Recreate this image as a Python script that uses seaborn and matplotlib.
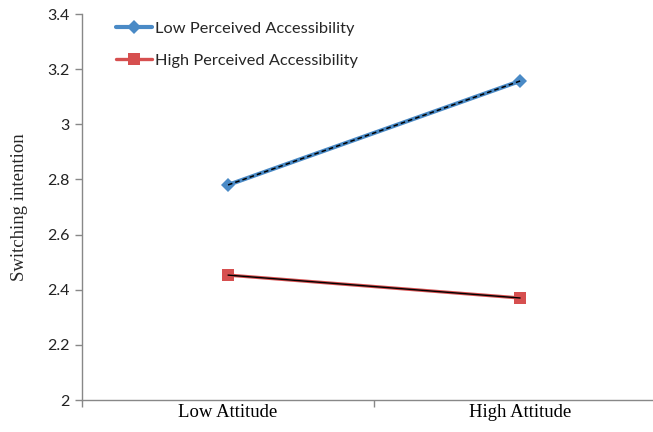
import matplotlib
matplotlib.use("Agg")
import matplotlib.pyplot as plt
import seaborn as sns
import pandas as pd
from matplotlib.ticker import FixedLocator

categories = ["Low Attitude", "High Attitude"]
low_access = [2.78, 3.157]
high_access = [2.453, 2.37]
series_names = ["Low Perceived Accessibility", "High Perceived Accessibility"]
yticks = [2, 2.2, 2.4, 2.6, 2.8, 3, 3.2, 3.4]
ytick_labels = ["2", "2.2", "2.4", "2.6", "2.8", "3", "3.2", "3.4"]

sns.set_style("white")
plt.rcParams['font.family'] = ['Lato', 'DejaVu Sans']

df_low = pd.DataFrame({"x": categories, "y": low_access})
df_high = pd.DataFrame({"x": categories, "y": high_access})

fig = plt.figure(figsize=(6.53, 4.32), dpi=100)
ax = fig.add_axes([82/653, 1-400/432, 1-82/653, (400-14)/432])

blue = "#4A8AC6"
red = "#D64F4F"
sns.lineplot(data=df_low, x="x", y="y", ax=ax, color=blue, lw=3.0,
             marker="D", markersize=7, markeredgewidth=0, label=series_names[0])
sns.lineplot(data=df_low, x="x", y="y", ax=ax, color="black", lw=1.1,
             linestyle=(0, (3, 2)), legend=False)
sns.lineplot(data=df_high, x="x", y="y", ax=ax, color=red, lw=2.4,
             marker="s", markersize=8.5, markeredgewidth=0, label=series_names[1])
sns.lineplot(data=df_high, x="x", y="y", ax=ax, color="black", lw=1.0,
             legend=False)

ax.set_xlim(-0.5, 1.455)
ax.set_ylim(2, 3.4)
ax.set_yticks(yticks)
ax.set_yticklabels(ytick_labels, fontsize=11.5, color="#222222")
ax.set_xticks([0, 1])
ax.set_xticklabels(categories, fontsize=13.5, family="Liberation Serif", color="black")
ax.xaxis.set_minor_locator(FixedLocator([-0.5, 0.5, 1.5]))
ax.tick_params(axis="x", which="major", length=0, pad=3)
ax.tick_params(axis="x", which="minor", length=5, color="#888888", width=1, direction="out", bottom=True)
ax.tick_params(axis="y", length=5, color="#888888", width=1, direction="out", left=True, pad=4)
ax.set_xlabel("")
ax.set_ylabel("Switching intention", fontsize=13.5, family="Liberation Serif", labelpad=14)

for s in ["top", "right"]:
    ax.spines[s].set_visible(False)
for s in ["left", "bottom"]:
    ax.spines[s].set_color("#888888")
    ax.spines[s].set_linewidth(1)

handles, labels = ax.get_legend_handles_labels()
leg = ax.legend(handles[:2], labels[:2], loc="upper left", bbox_to_anchor=(0.04, 1.01),
                frameon=False, fontsize=11.8, handlelength=2.2, handletextpad=0.15,
                labelspacing=1.05, borderaxespad=0.3)

fig.savefig("out.png", dpi=100)
